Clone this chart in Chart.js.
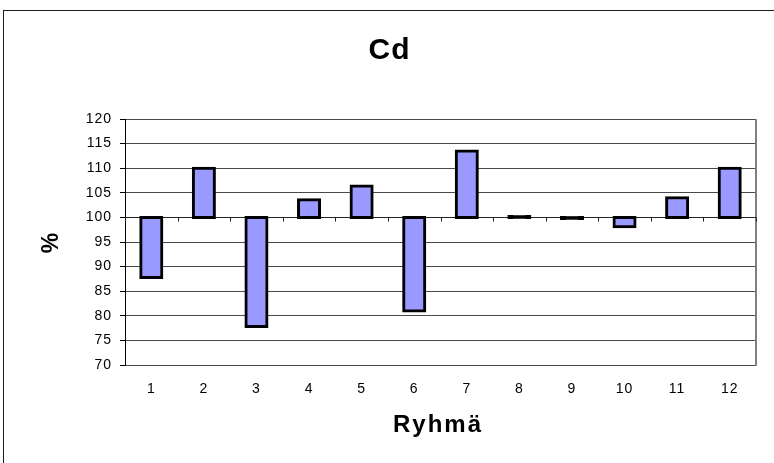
<!DOCTYPE html>
<html>
<head>
<meta charset="utf-8">
<script src="https://cdn.jsdelivr.net/npm/chart.js@4/dist/chart.umd.min.js"></script>
<style>
  html, body { margin: 0; padding: 0; background: #fff; }
  #wrap { width: 774px; height: 463px; }
</style>
</head>
<body>
<div id="wrap"><canvas id="c" width="774" height="463"></canvas></div>
<script>
// Groups (Ryhmä) and their Cd value in percent, relative to the 100 % baseline
const groups = ['1', '2', '3', '4', '5', '6', '7', '8', '9', '10', '11', '12'];
const cdPercent = [87.8, 110, 77.8, 103.6, 106.4, 81.0, 113.5, 100.2, 99.8, 98.1, 104, 110];
const baseline = 100;
const yMin = 70, yMax = 120, yStep = 5;

const titleText = 'Cd';
const xTitleText = 'Ryhmä';
const yTitleText = '%';

const FONT = '"Liberation Sans", Arial, sans-serif';

// Text with letter spacing, centred on (cx, y)
function spacedText(ctx, text, cx, y, font, spacing) {
  ctx.save();
  ctx.font = font;
  ctx.letterSpacing = spacing + 'px';
  ctx.fillStyle = '#000';
  ctx.textBaseline = 'alphabetic';
  ctx.textAlign = 'left';
  const w = ctx.measureText(text).width - spacing;
  ctx.fillText(text, cx - w / 2, y);
  ctx.restore();
}

const decor = {
  id: 'decor',
  beforeDraw(chart) {
    const ctx = chart.ctx;
    ctx.save();
    ctx.fillStyle = '#fff';
    ctx.fillRect(0, 0, chart.width, chart.height);
    // outer frame
    ctx.strokeStyle = '#1a1a1a';
    ctx.lineWidth = 1;
    ctx.strokeRect(3.5, 10.5, 900, 600);
    ctx.restore();
    ctx.letterSpacing = '1px';
  },
  beforeDatasetsDraw(chart) {
    const ctx = chart.ctx;
    const xs = chart.scales.x, ys = chart.scales.y;
    const a = chart.chartArea;
    ctx.save();
    // plot area right edge
    ctx.strokeStyle = '#808080';
    ctx.lineWidth = 2;
    ctx.beginPath();
    ctx.moveTo(a.right, a.top);
    ctx.lineTo(a.right, a.bottom + 1);
    ctx.stroke();
    // category axis crossing at the baseline, with tick marks between groups
    const y0 = Math.round(ys.getPixelForValue(baseline)) + 0.5;
    ctx.strokeStyle = '#222';
    ctx.lineWidth = 1;
    ctx.beginPath();
    ctx.moveTo(a.left, y0);
    ctx.lineTo(a.right, y0);
    for (let i = 0; i <= groups.length; i++) {
      const x = Math.round(xs.getPixelForValue(i - 0.5)) + 0.5;
      ctx.moveTo(x, y0);
      ctx.lineTo(x, y0 + 4);
    }
    ctx.stroke();
    ctx.restore();
  },
  afterDraw(chart) {
    const ctx = chart.ctx;
    ctx.letterSpacing = '0px';
    spacedText(ctx, titleText, 389, 59, 'bold 30px ' + FONT, 1);
    spacedText(ctx, xTitleText, 437, 432, 'bold 24px ' + FONT, 2);
    ctx.save();
    ctx.translate(52, 243);
    ctx.rotate(-Math.PI / 2);
    ctx.font = 'bold 23px ' + FONT;
    ctx.fillStyle = '#000';
    ctx.textAlign = 'center';
    ctx.textBaseline = 'middle';
    ctx.fillText(yTitleText, 0, 0);
    ctx.restore();
  }
};

// Bars only a pixel or two tall are all outline
function barFill(c) {
  const ys = c.chart.scales.y;
  const v = c.raw;
  if (ys && v && Math.abs(ys.getPixelForValue(v[1]) - ys.getPixelForValue(v[0])) < 4) return '#000';
  return '#9999ff';
}

new Chart(document.getElementById('c'), {
  type: 'bar',
  data: {
    labels: groups,
    datasets: [{
      data: cdPercent.map(v => [baseline, v]),
      backgroundColor: barFill,
      borderColor: '#000',
      borderWidth: 3,
      borderSkipped: false,
      inflateAmount: 1.5,
      categoryPercentage: 0.40,
      barPercentage: 1
    }]
  },
  options: {
    responsive: false,
    animation: false,
    events: [],
    layout: { padding: { top: 119, right: 18, left: 0, bottom: 0 } },
    plugins: {
      legend: { display: false },
      title: { display: false },
      tooltip: { enabled: false }
    },
    scales: {
      x: {
        offset: true,
        grid: { display: false, drawTicks: false },
        border: { display: false },
        ticks: {
          color: '#000',
          font: { family: FONT, size: 14 },
          padding: 16,
          maxRotation: 0
        },
        afterFit(scale) { scale.height = 98; }
      },
      y: {
        min: yMin,
        max: yMax,
        ticks: {
          stepSize: yStep,
          color: '#000',
          font: { family: FONT, size: 14 },
          padding: 8
        },
        grid: {
          color: '#4a4a4a',
          lineWidth: 1,
          tickColor: '#000',
          tickLength: 5
        },
        border: { color: '#000', width: 1 },
        afterFit(scale) { scale.width = 125; }
      }
    }
  },
  plugins: [decor]
});
</script>
</body>
</html>
